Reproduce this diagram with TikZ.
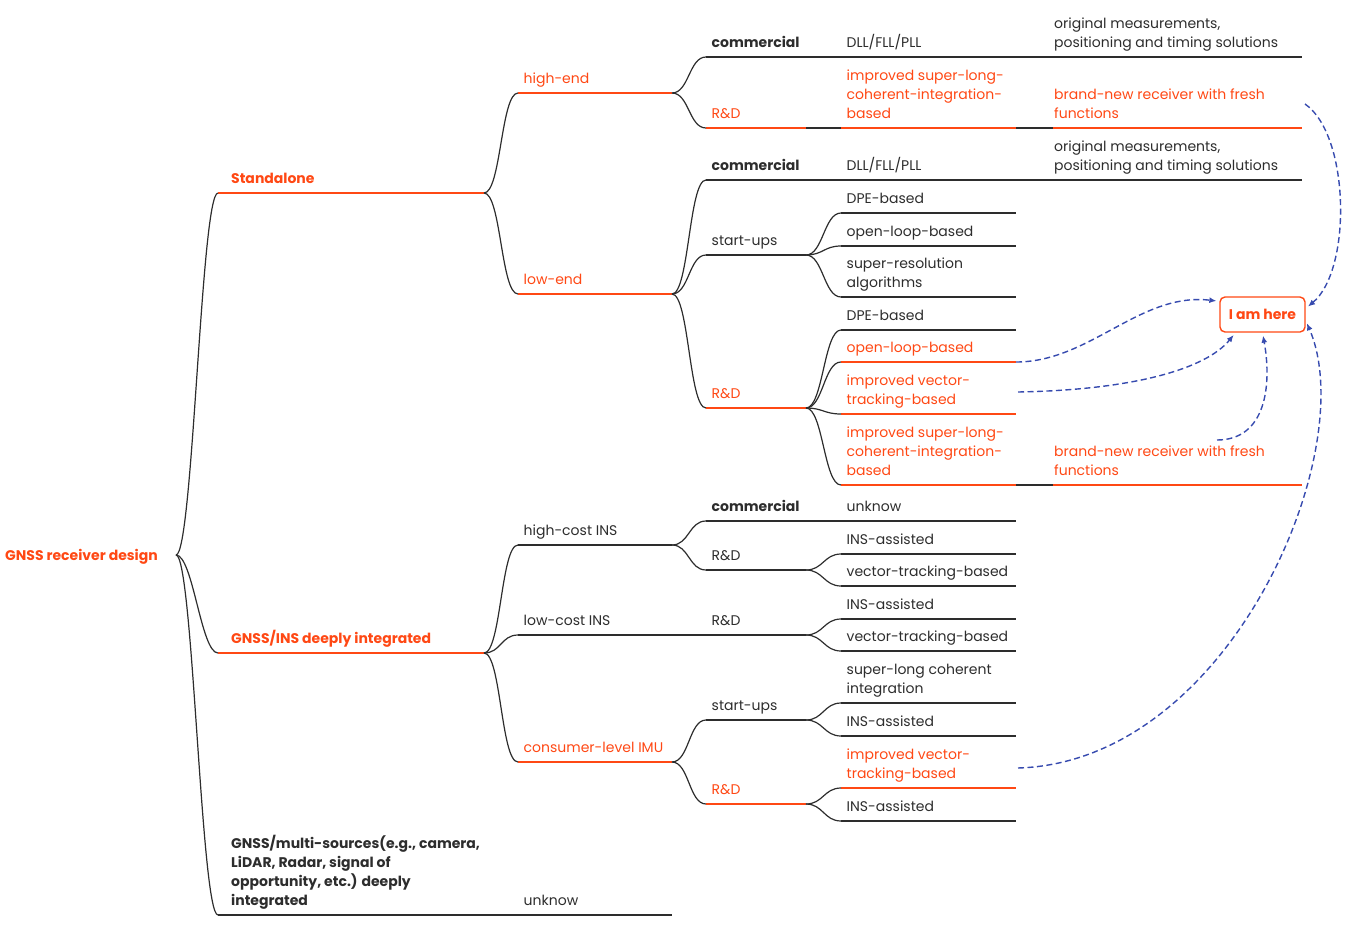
\documentclass[tikz,border=0pt]{standalone}
\usepackage{fontspec}
\setmainfont{Poppins}
\usetikzlibrary{arrows.meta}

\definecolor{mmred}{RGB}{255,72,20}
\definecolor{mmgray}{RGB}{45,45,45}
\definecolor{mmblue}{RGB}{55,75,175}

\newcommand{\stacked}[1]{\begin{tabular}[b]{@{}l@{}}#1\end{tabular}}

\tikzset{
  wire/.style={draw=mmgray, line width=1.2pt},
  twig/.style={out=0, in=180, distance=17pt},
  txt/.style={anchor=base west, inner sep=0pt, text=mmgray,
    font=\fontsize{14}{19}\selectfont},
  lbl/.style={txt, xshift=5.5pt, yshift=9.5pt},
  lblmain/.style={txt, xshift=13pt, yshift=10pt,
    font=\fontsize{14}{19}\selectfont\bfseries},
  lblfar/.style={txt, xshift=1pt, yshift=9.5pt},
  hl/.style={text=mmred},
  strong/.style={font=\fontsize{14}{19}\selectfont\bfseries},
  pointer/.style={draw=mmblue, line width=1.4pt, dash pattern=on 6pt off 3.5pt,
    -{Latex[length=7pt,width=6pt]}, shorten >=3pt},
  herebox/.style={draw=mmred, line width=1.4pt, rounded corners=5pt,
    minimum width=85pt, minimum height=35pt, text=mmred,
    font=\fontsize{14}{19}\selectfont\bfseries}
}

\begin{document}
\begin{tikzpicture}[x=1pt, y=-1pt]
	\useasboundingbox (0,0) rectangle (1347,926);

	% root
	\coordinate (root-e) at (176,555);
	\node[txt, strong, hl] (root) at (5,560) {GNSS receiver design};

	% underlines, level by level
	\foreach \n/\y/\c in {std/193/mmred, ins/653/mmred, msrc/915/mmgray}
		{\coordinate (\n) at (218,\y); \draw[wire, draw=\c] (\n) -- ++(266,0) coordinate (\n-e);}
	\foreach \n/\y/\c in {hi/93/mmred, lo/294/mmred, hcost/545/mmgray, lcost/635/mmgray,
		imu/762/mmred, unk/915/mmgray}
		{\coordinate (\n) at (518,\y); \draw[wire, draw=\c] (\n) -- ++(154,0) coordinate (\n-e);}
	\foreach \n/\y/\c in {hicom/57/mmgray, hird/128/mmred, locom/180/mmgray, losu/255/mmgray,
		lord/408/mmred, hccom/521/mmgray, hcrd/570/mmgray, lcrd/635/mmgray,
		imusu/720/mmgray, imurd/804/mmred}
		{\coordinate (\n) at (706,\y); \draw[wire, draw=\c] (\n) -- ++(100,0) coordinate (\n-e);}
	\foreach \n/\y/\c in {hicom-dll/57/mmgray, hird-sl/128/mmred, locom-dll/180/mmgray,
		losu-dpe/213/mmgray, losu-ol/246/mmgray, losu-sr/297/mmgray,
		lord-dpe/330/mmgray, lord-ol/362/mmred, lord-vt/414/mmred, lord-sl/485/mmred,
		hccom-unk/521/mmgray, hcrd-ins/554/mmgray, hcrd-vt/586/mmgray,
		lcrd-ins/619/mmgray, lcrd-vt/651/mmgray, imusu-sl/703/mmgray,
		imusu-ins/736/mmgray, imurd-vt/788/mmred, imurd-ins/821/mmgray}
		{\coordinate (\n) at (841,\y); \draw[wire, draw=\c] (\n) -- ++(175,0) coordinate (\n-e);}
	\foreach \n/\y/\c in {hicom-out/57/mmgray, hird-new/128/mmred, locom-out/180/mmgray,
		lord-new/485/mmred}
		{\coordinate (\n) at (1053,\y); \draw[wire, draw=\c] (\n) -- ++(249,0) coordinate (\n-e);}

	% branches
	\foreach \a/\b in {root-e/std, root-e/ins, root-e/msrc,
		std-e/hi, std-e/lo, ins-e/hcost, ins-e/lcost, ins-e/imu, msrc-e/unk,
		hi-e/hicom, hi-e/hird, lo-e/locom, lo-e/losu, lo-e/lord,
		hcost-e/hccom, hcost-e/hcrd, lcost-e/lcrd, imu-e/imusu, imu-e/imurd,
		hicom-e/hicom-dll, hird-e/hird-sl, locom-e/locom-dll,
		losu-e/losu-dpe, losu-e/losu-ol, losu-e/losu-sr,
		lord-e/lord-dpe, lord-e/lord-ol, lord-e/lord-vt, lord-e/lord-sl,
		hccom-e/hccom-unk, hcrd-e/hcrd-ins, hcrd-e/hcrd-vt,
		lcrd-e/lcrd-ins, lcrd-e/lcrd-vt, imusu-e/imusu-sl, imusu-e/imusu-ins,
		imurd-e/imurd-vt, imurd-e/imurd-ins,
		hicom-dll-e/hicom-out, hird-sl-e/hird-new, locom-dll-e/locom-out,
		lord-sl-e/lord-new}
		\draw[wire] (\a) to[twig] (\b);

	% level 1
	\node[lblmain, hl] (std-t) at (std) {Standalone};
	\node[lblmain, hl] (ins-t) at (ins) {GNSS/INS deeply integrated};
	\node[lblmain] (msrc-t) at (msrc) {\stacked{GNSS/multi-sources(e.g., camera,\\LiDAR,
		Radar, signal of\\opportunity, etc.) deeply\\integrated}};

	% level 2
	\node[lbl, hl] (hi-t) at (hi) {high-end};
	\node[lbl, hl] (lo-t) at (lo) {low-end};
	\node[lbl] (hcost-t) at (hcost) {high-cost INS};
	\node[lbl] (lcost-t) at (lcost) {low-cost INS};
	\node[lbl, hl] (imu-t) at (imu) {consumer-level IMU};
	\node[lbl] (unk-t) at (unk) {unknow};

	% level 3
	\node[lbl, strong] (hicom-t) at (hicom) {commercial};
	\node[lbl, hl] (hird-t) at (hird) {R\&D};
	\node[lbl, strong] (locom-t) at (locom) {commercial};
	\node[lbl] (losu-t) at (losu) {start-ups};
	\node[lbl, hl] (lord-t) at (lord) {R\&D};
	\node[lbl, strong] (hccom-t) at (hccom) {commercial};
	\node[lbl] (hcrd-t) at (hcrd) {R\&D};
	\node[lbl] (lcrd-t) at (lcrd) {R\&D};
	\node[lbl] (imusu-t) at (imusu) {start-ups};
	\node[lbl, hl] (imurd-t) at (imurd) {R\&D};

	% level 4
	\node[lbl] (hicom-dll-t) at (hicom-dll) {DLL/FLL/PLL};
	\node[lbl, hl] (hird-sl-t) at (hird-sl)
		{\stacked{improved super-long-\\coherent-integration-\\based}};
	\node[lbl] (locom-dll-t) at (locom-dll) {DLL/FLL/PLL};
	\node[lbl] (losu-dpe-t) at (losu-dpe) {DPE-based};
	\node[lbl] (losu-ol-t) at (losu-ol) {open-loop-based};
	\node[lbl] (losu-sr-t) at (losu-sr) {\stacked{super-resolution\\algorithms}};
	\node[lbl] (lord-dpe-t) at (lord-dpe) {DPE-based};
	\node[lbl, hl] (lord-ol-t) at (lord-ol) {open-loop-based};
	\node[lbl, hl] (lord-vt-t) at (lord-vt) {\stacked{improved vector-\\tracking-based}};
	\node[lbl, hl] (lord-sl-t) at (lord-sl)
		{\stacked{improved super-long-\\coherent-integration-\\based}};
	\node[lbl] (hccom-unk-t) at (hccom-unk) {unknow};
	\node[lbl] (hcrd-ins-t) at (hcrd-ins) {INS-assisted};
	\node[lbl] (hcrd-vt-t) at (hcrd-vt) {vector-tracking-based};
	\node[lbl] (lcrd-ins-t) at (lcrd-ins) {INS-assisted};
	\node[lbl] (lcrd-vt-t) at (lcrd-vt) {vector-tracking-based};
	\node[lbl] (imusu-sl-t) at (imusu-sl) {\stacked{super-long coherent\\integration}};
	\node[lbl] (imusu-ins-t) at (imusu-ins) {INS-assisted};
	\node[lbl, hl] (imurd-vt-t) at (imurd-vt) {\stacked{improved vector-\\tracking-based}};
	\node[lbl] (imurd-ins-t) at (imurd-ins) {INS-assisted};

	% level 5
	\node[lblfar] (hicom-out-t) at (hicom-out)
		{\stacked{original measurements,\\positioning and timing solutions}};
	\node[lblfar, hl] (hird-new-t) at (hird-new)
		{\stacked{brand-new receiver with fresh\\functions}};
	\node[lblfar] (locom-out-t) at (locom-out)
		{\stacked{original measurements,\\positioning and timing solutions}};
	\node[lblfar, hl] (lord-new-t) at (lord-new)
		{\stacked{brand-new receiver with fresh\\functions}};

	% I am here
	\node[herebox] (here) at (1262.5,314.5) {I am here};
	\coordinate (p1) at (1305,104);
	\coordinate (p3) at (1018,392);
	\coordinate (p4) at (1217,440);
	\coordinate (p5) at (1018,768);
	\draw[pointer] (p1) .. controls (1350,135) and (1352,270) .. (here.8);
	\draw[pointer] (lord-ol-e) .. controls (1090,362) and (1140,292) .. (here.163);
	\draw[pointer] (p3) .. controls (1130,390) and (1205,370) .. (here.214);
	\draw[pointer] (p4) .. controls (1266,440) and (1272,385) .. (here.south);
	\draw[pointer] (p5) .. controls (1230,762) and (1362,450) .. (here.-8);
\end{tikzpicture}
\end{document}
